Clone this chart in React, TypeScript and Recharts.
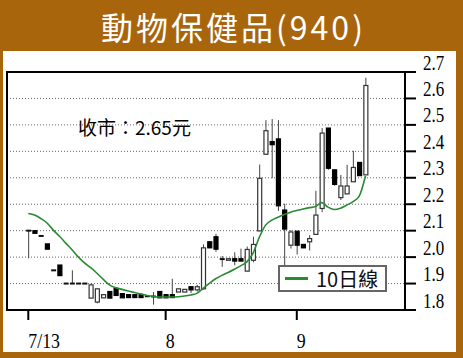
import React from 'react';
import { ComposedChart, Bar, Line, XAxis, YAxis, CartesianGrid, ReferenceArea, Legend } from 'recharts';

// daily candles, index 0 = 7/13
const opens = [
  2.10, 2.10, 2.08, 2.05, 1.95, 1.97, 1.90, 1.90, 1.90, 1.90,
  1.845, 1.83, 1.846, 1.87, 1.882, 1.862, 1.858, 1.858, 1.858, 1.852,
  1.851, 1.87, 1.858, 1.858, 1.868, 1.868, 1.888, 1.876, 1.88, 2.058,
  2.077, 1.995, 1.988, 1.994, 1.994, 1.947, 1.988, 2.099, 2.389, 2.437,
  2.447, 2.178, 2.045, 2.098, 2.048, 2.058, 2.086, 2.184, 2.488, 2.33,
  2.225, 2.239, 2.285, 2.358, 2.311,
];
const highs = [
  2.10, 2.10, 2.08, 2.05, 1.95, 1.97, 1.90, 1.95, 1.90, 1.90,
  1.90, 1.88, 1.858, 1.87, 1.882, 1.862, 1.858, 1.858, 1.858, 1.852,
  1.868, 1.87, 1.858, 1.918, 1.88, 1.878, 1.888, 1.895, 2.048, 2.058,
  2.088, 2.004, 1.994, 2.018, 2.032, 2.04, 2.077, 2.35, 2.518, 2.522,
  2.518, 2.202, 2.102, 2.098, 2.048, 2.083, 2.251, 2.488, 2.488, 2.33,
  2.311, 2.349, 2.402, 2.358, 2.678,
];
const lows = [
  1.995, 2.09, 2.08, 2.03, 1.95, 1.93, 1.90, 1.90, 1.90, 1.90,
  1.845, 1.825, 1.846, 1.845, 1.855, 1.846, 1.847, 1.847, 1.847, 1.852,
  1.82, 1.846, 1.846, 1.847, 1.868, 1.868, 1.864, 1.87, 1.878, 2.035,
  2.02, 1.963, 1.988, 1.969, 1.985, 1.947, 1.98, 2.099, 2.389, 2.298,
  2.175, 1.968, 2.032, 2.01, 2.035, 2.025, 2.086, 2.17, 2.33, 2.27,
  2.216, 2.239, 2.285, 2.308, 2.311,
];
const closes = [
  2.10, 2.09, 2.08, 2.03, 1.95, 1.93, 1.90, 1.90, 1.90, 1.90,
  1.895, 1.88, 1.858, 1.845, 1.855, 1.846, 1.847, 1.847, 1.847, 1.852,
  1.851, 1.846, 1.846, 1.847, 1.88, 1.878, 1.876, 1.888, 2.035, 2.035,
  2.03, 1.99, 1.994, 1.985, 1.985, 2.029, 2.048, 2.298, 2.478, 2.425,
  2.194, 2.106, 2.095, 2.045, 2.035, 2.07, 2.159, 2.469, 2.336, 2.275,
  2.269, 2.269, 2.339, 2.308, 2.649,
];
// 10 day moving average
const ma10 = [
  2.165, 2.159, 2.146, 2.129, 2.102, 2.079, 2.053, 2.028, 2.001, 1.978,
  1.96, 1.939, 1.916, 1.895, 1.884, 1.878, 1.872, 1.866, 1.861, 1.855,
  1.851, 1.849, 1.849, 1.849, 1.85, 1.853, 1.857, 1.863, 1.882, 1.901,
  1.918, 1.931, 1.942, 1.954, 1.967, 1.982, 2.015, 2.075, 2.121, 2.14,
  2.151, 2.161, 2.17, 2.176, 2.182, 2.187, 2.191, 2.206, 2.189, 2.18,
  2.185, 2.197, 2.21, 2.231, 2.307,
];

const xTicks = [0, 22, 43];
const xLabels = ['7/13', '8', '9'];
const yTicks = [1.8, 1.9, 2.0, 2.1, 2.2, 2.3, 2.4, 2.5, 2.6, 2.7];

const data = opens.map((open, i) => ({
  i,
  open,
  high: highs[i],
  low: lows[i],
  close: closes[i],
  range: [lows[i], highs[i]],
  ma: ma10[i],
}));

const BROWN = '#A8650C';
const GREEN = '#2A8A32';
const serif = "'Liberation Serif', 'Times New Roman', serif";
const cjk = "'Noto Sans CJK TC', 'Noto Sans', sans-serif";

// candle drawn inside the [low, high] bar the library lays out
const Candle = (props: any) => {
  const { x, y, width, height, payload } = props;
  if (x == null || y == null || !payload) return null;
  const { open, close, high, low } = payload;
  const cx = x + width / 2;
  const span = high - low;
  const py = (p: number) => (span > 0 ? y + ((high - p) / span) * height : y);
  const top = py(Math.max(open, close));
  const bot = py(Math.min(open, close));
  const up = close > open;
  const bw = 5;
  return (
    <g>
      <line x1={cx} x2={cx} y1={py(high)} y2={py(low)} stroke="#444" strokeWidth={1} />
      {bot - top < 1.5 ? (
        <line x1={cx - bw / 2} x2={cx + bw / 2} y1={(top + bot) / 2} y2={(top + bot) / 2} stroke="#111" strokeWidth={2} />
      ) : (
        <rect
          x={cx - bw / 2 + 0.5}
          y={top}
          width={bw - 1}
          height={bot - top}
          fill={up ? '#fff' : '#000'}
          stroke={up ? '#333' : '#000'}
          strokeWidth={1.2}
        />
      )}
    </g>
  );
};

const XTick = ({ x, y, payload }: any) => (
  <text
    transform={`translate(${x},${y + 28}) scale(0.85,1)`}
    fontSize={21}
    fontFamily={serif}
    fill="#000"
    textAnchor="start"
  >
    {xLabels[xTicks.indexOf(payload.value)]}
  </text>
);

const YTick = ({ x, y, payload }: any) => (
  <text
    transform={`translate(${x + 7},${y - 2.5}) scale(0.85,1)`}
    fontSize={20}
    fontFamily={serif}
    fill="#000"
    textAnchor="start"
  >
    {payload.value.toFixed(1)}
  </text>
);

const LegendBox = () => (
  <div
    style={{
      width: 105,
      height: 23,
      border: '2px solid #666',
      background: '#fff',
      display: 'flex',
      alignItems: 'center',
      fontFamily: cjk,
      fontSize: 20,
      color: '#111',
      boxSizing: 'content-box',
    }}
  >
    <span style={{ display: 'inline-block', width: 23, height: 3, background: GREEN, marginLeft: 5, marginRight: 8 }} />
    <span style={{ lineHeight: '23px' }}>10日線</span>
  </div>
);

export default function App() {
  return (
    <div style={{ position: 'absolute', left: 0, top: 0, width: 463, height: 358, background: BROWN, overflow: 'hidden' }}>
      <div
        style={{
          position: 'absolute',
          left: 2,
          top: 6,
          width: 463,
          textAlign: 'center',
          color: '#fff',
          fontFamily: cjk,
          fontSize: 32,
          letterSpacing: 3,
          lineHeight: '40px',
        }}
      >
        動物保健品(940)
      </div>
      <div style={{ position: 'absolute', left: 3, top: 51, width: 453, height: 301, background: '#fff' }} />
      <div
        style={{
          position: 'absolute',
          left: 78,
          top: 113,
          fontFamily: cjk,
          fontSize: 19,
          lineHeight: '28px',
          color: '#000',
          whiteSpace: 'nowrap',
        }}
      >
        收市：2.65元
      </div>
      <div style={{ position: 'absolute', left: 0, top: 0 }}>
        <ComposedChart
          width={463}
          height={358}
          data={data}
          margin={{ top: 72, right: 8, bottom: 8, left: 7 }}
        >
          <CartesianGrid
            vertical={false}
            stroke="#666"
            strokeDasharray="1 2"
          />
          <XAxis
            type="number"
            dataKey="i"
            domain={[-3.41, 60.33]}
            allowDataOverflow
            ticks={xTicks}
            interval={0}
            height={40}
            axisLine={{ stroke: '#000', strokeWidth: 2 }}
            tickLine={{ stroke: '#000', strokeWidth: 2 }}
            tickSize={10}
            tickMargin={0}
            tick={<XTick />}
          />
          <YAxis
            orientation="right"
            type="number"
            domain={[1.8, 2.7]}
            allowDataOverflow
            ticks={yTicks}
            interval={0}
            width={50}
            axisLine={{ stroke: '#000', strokeWidth: 2 }}
            tickLine={{ stroke: '#000', strokeWidth: 2 }}
            tickSize={11}
            tickMargin={0}
            tick={<YTick />}
          />
          <ReferenceArea
            x1={-3.41}
            x2={60.33}
            y1={1.8}
            y2={2.7}
            fill="none"
            stroke="#000"
            strokeWidth={2}
            ifOverflow="visible"
          />
          <Legend
            layout="vertical"
            align="center"
            verticalAlign="middle"
            wrapperStyle={{ left: 278, top: 265, width: 110 }}
            content={<LegendBox />}
          />
          <Line
            type="monotone"
            dataKey="ma"
            stroke={GREEN}
            strokeWidth={1.6}
            dot={false}
            isAnimationActive={false}
            name="10日線"
          />
          <Bar dataKey="range" barSize={5} shape={<Candle />} isAnimationActive={false} legendType="none" />
        </ComposedChart>
      </div>
    </div>
  );
}
